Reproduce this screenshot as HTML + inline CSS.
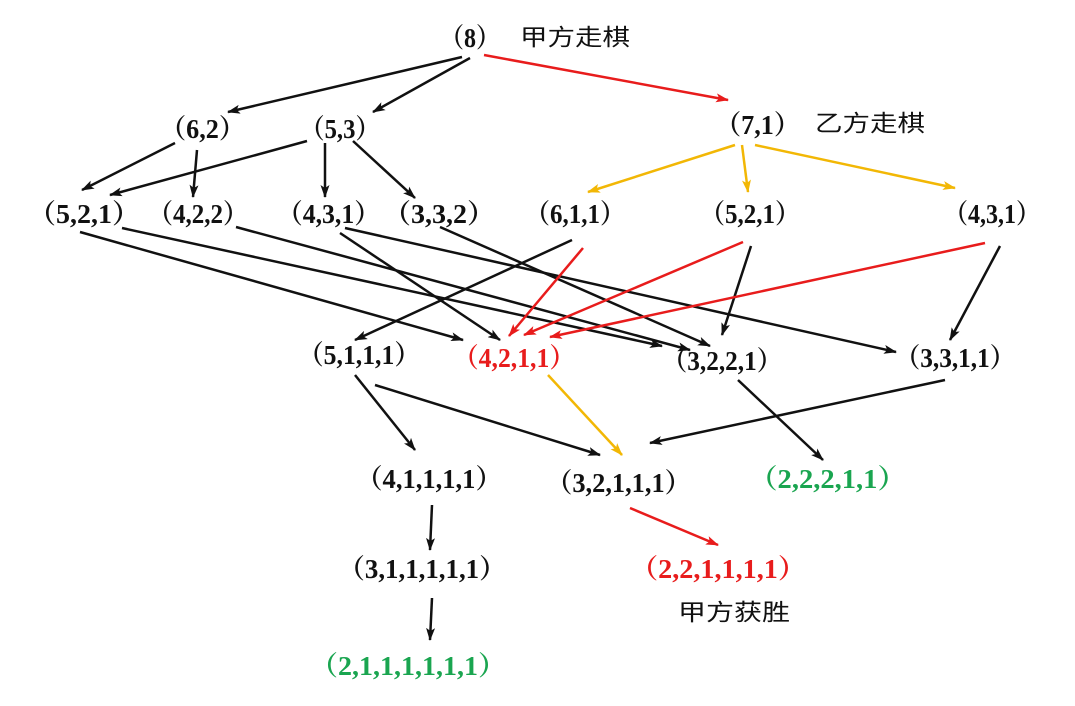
<!DOCTYPE html>
<html><head><meta charset="utf-8"><style>
html,body{margin:0;padding:0;background:#fff;}
svg{display:block}
.t{font-family:"Liberation Serif","Noto Serif CJK SC",serif;font-weight:bold;font-size:27px;}
.c{font-family:"Liberation Sans","Noto Sans CJK SC",sans-serif;font-size:23px;fill:#111}
</style></head><body>
<svg width="1075" height="706" viewBox="0 0 1075 706" xmlns="http://www.w3.org/2000/svg">
<defs>
<marker id="ak" markerWidth="13" markerHeight="9" refX="12" refY="4.5" orient="auto" markerUnits="userSpaceOnUse"><path d="M0,0 L13,4.5 L0,9 L3,4.5 z" fill="#111"/></marker>
<marker id="ar" markerWidth="13" markerHeight="9" refX="12" refY="4.5" orient="auto" markerUnits="userSpaceOnUse"><path d="M0,0 L13,4.5 L0,9 L3,4.5 z" fill="#e81c1c"/></marker>
<marker id="ay" markerWidth="13" markerHeight="9" refX="12" refY="4.5" orient="auto" markerUnits="userSpaceOnUse"><path d="M0,0 L13,4.5 L0,9 L3,4.5 z" fill="#f2b705"/></marker>
</defs>
<g stroke="#111" stroke-width="2.5" marker-end="url(#ak)" fill="none">
<line x1="462" y1="57" x2="228" y2="112"/>
<line x1="470" y1="58" x2="373" y2="112"/>
<line x1="175" y1="143" x2="82" y2="190"/>
<line x1="197" y1="150" x2="193" y2="197"/>
<line x1="307" y1="141" x2="110" y2="195"/>
<line x1="325" y1="143" x2="325" y2="197"/>
<line x1="353" y1="141" x2="415" y2="198"/>
<line x1="80" y1="232" x2="463" y2="340"/>
<line x1="122" y1="228" x2="662" y2="346"/>
<line x1="236" y1="227" x2="690" y2="350"/>
<line x1="340" y1="233" x2="500" y2="340"/>
<line x1="345" y1="228" x2="896" y2="352"/>
<line x1="440" y1="227" x2="710" y2="346"/>
<line x1="572" y1="240" x2="355" y2="340"/>
<line x1="751" y1="246" x2="722" y2="335"/>
<line x1="1000" y1="246" x2="950" y2="340"/>
<line x1="375" y1="385" x2="600" y2="455"/>
<line x1="355" y1="375" x2="415" y2="450"/>
<line x1="945" y1="380" x2="650" y2="443"/>
<line x1="738" y1="380" x2="823" y2="460"/>
<line x1="432" y1="505" x2="430" y2="550"/>
<line x1="432" y1="598" x2="430" y2="640"/>
</g>
<g stroke="#e81c1c" stroke-width="2.5" marker-end="url(#ar)" fill="none">
<line x1="484" y1="55" x2="728" y2="100"/>
<line x1="583" y1="248" x2="509" y2="336"/>
<line x1="743" y1="242" x2="524" y2="335"/>
<line x1="985" y1="243" x2="550" y2="337"/>
<line x1="630" y1="508" x2="718" y2="545"/>
</g>
<g stroke="#f2b705" stroke-width="2.5" marker-end="url(#ay)" fill="none">
<line x1="735" y1="145" x2="588" y2="192"/>
<line x1="742" y1="145" x2="748" y2="192"/>
<line x1="755" y1="145" x2="955" y2="188"/>
<line x1="548" y1="375" x2="622" y2="455"/>
</g>
<g class="t" fill="#111">
<text x="440" y="47" textLength="60" lengthAdjust="spacingAndGlyphs">（8）</text>
<text x="160" y="138" textLength="85" lengthAdjust="spacingAndGlyphs">（6,2）</text>
<text x="300" y="138" textLength="80" lengthAdjust="spacingAndGlyphs">（5,3）</text>
<text x="715" y="134" textLength="85" lengthAdjust="spacingAndGlyphs">（7,1）</text>
<text x="28" y="223" textLength="112" lengthAdjust="spacingAndGlyphs">（5,2,1）</text>
<text x="148" y="223" textLength="100" lengthAdjust="spacingAndGlyphs">（4,2,2）</text>
<text x="277" y="223" textLength="103" lengthAdjust="spacingAndGlyphs">（4,3,1）</text>
<text x="383" y="223" textLength="112" lengthAdjust="spacingAndGlyphs">（3,3,2）</text>
<text x="525" y="223" textLength="100" lengthAdjust="spacingAndGlyphs">（6,1,1）</text>
<text x="700" y="223" textLength="100" lengthAdjust="spacingAndGlyphs">（5,2,1）</text>
<text x="944" y="223" textLength="96" lengthAdjust="spacingAndGlyphs">（4,3,1）</text>
<text x="298" y="364" textLength="122" lengthAdjust="spacingAndGlyphs">（5,1,1,1）</text>
<text x="662" y="370" textLength="120" lengthAdjust="spacingAndGlyphs">（3,2,2,1）</text>
<text x="895" y="367" textLength="120" lengthAdjust="spacingAndGlyphs">（3,3,1,1）</text>
<text x="356" y="488" textLength="146" lengthAdjust="spacingAndGlyphs">（4,1,1,1,1）</text>
<text x="546" y="492" textLength="145" lengthAdjust="spacingAndGlyphs">（3,2,1,1,1）</text>
<text x="338" y="578" textLength="168" lengthAdjust="spacingAndGlyphs">（3,1,1,1,1,1）</text>
</g>
<g class="t" fill="#e81c1c">
<text x="453" y="367" textLength="122" lengthAdjust="spacingAndGlyphs">（4,2,1,1）</text>
<text x="630" y="578" textLength="176" lengthAdjust="spacingAndGlyphs">（2,2,1,1,1,1）</text>
</g>
<g class="t" fill="#1aa550">
<text x="749" y="488" textLength="157" lengthAdjust="spacingAndGlyphs">（2,2,2,1,1）</text>
<text x="310" y="675" textLength="196" lengthAdjust="spacingAndGlyphs">（2,1,1,1,1,1,1）</text>
</g>
<text class="c" x="520" y="45" textLength="110" lengthAdjust="spacingAndGlyphs">甲方走棋</text>
<text class="c" x="815" y="131" textLength="110" lengthAdjust="spacingAndGlyphs">乙方走棋</text>
<text class="c" x="678" y="620" textLength="112" lengthAdjust="spacingAndGlyphs">甲方获胜</text>
</svg>
</body></html>
